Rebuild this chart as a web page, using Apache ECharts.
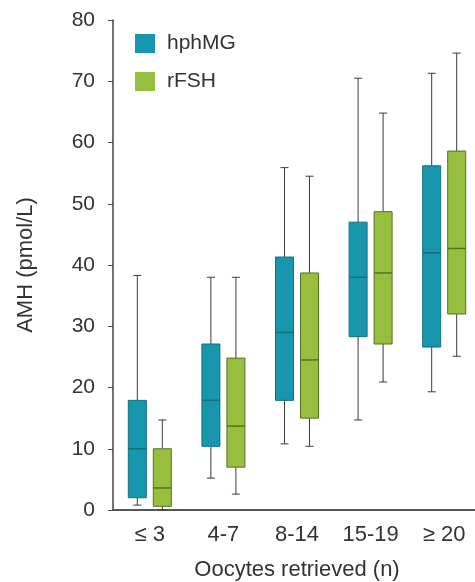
<!DOCTYPE html>
<html>
<head>
<meta charset="utf-8">
<script src="https://cdn.jsdelivr.net/npm/echarts@6/dist/echarts.min.js"></script>
<style>
  html, body { margin: 0; padding: 0; background: #fff; }
  #main { width: 475px; height: 582px; }
</style>
</head>
<body>
<div id="main"></div>
<script>
// 数据：每组 [最小值, Q1, 中位数, Q3, 最大值]
var categories = ['\u2264 3', '4-7', '8-14', '15-19', '\u2265 20'];
var hphMG = [
    [0.8, 2.0, 10.0, 17.9, 38.3],
    [5.2, 10.4, 17.9, 27.1, 38.0],
    [10.8, 17.9, 29.0, 41.3, 55.9],
    [14.7, 28.3, 38.0, 47.0, 70.5],
    [19.3, 26.6, 42.0, 56.2, 71.3]
];
var rFSH = [
    [0.0, 0.6, 3.6, 10.0, 14.7],
    [2.6, 7.0, 13.7, 24.8, 38.0],
    [10.4, 15.0, 24.5, 38.7, 54.5],
    [20.9, 27.1, 38.7, 48.7, 64.8],
    [25.1, 32.0, 42.7, 58.6, 74.6]
];
var yTicks = [0, 10, 20, 30, 40, 50, 60, 70, 80];

var FONT = 'Liberation Sans, Arial, sans-serif';

function toItems(arr) {
    return arr.map(function (d, i) { return [i].concat(d); });
}

// 自绘箱线：须线灰色，箱体按系列颜色
function makeRender(offset, fill, border) {
    return function (params, api) {
        var c = api.value(0);
        var pMin = api.coord([c, api.value(1)]);
        var pQ1 = api.coord([c, api.value(2)]);
        var pMed = api.coord([c, api.value(3)]);
        var pQ3 = api.coord([c, api.value(4)]);
        var pMax = api.coord([c, api.value(5)]);
        var x = pMin[0] + offset;
        var bw = 18, cap = 4;
        var wStyle = { stroke: '#3a3a3a', lineWidth: 1 };
        return {
            type: 'group',
            children: [
                { type: 'line', shape: { x1: x, y1: pMax[1], x2: x, y2: pQ3[1] }, style: wStyle },
                { type: 'line', shape: { x1: x, y1: pQ1[1], x2: x, y2: pMin[1] }, style: wStyle },
                { type: 'line', shape: { x1: x - cap, y1: pMax[1], x2: x + cap, y2: pMax[1] }, style: wStyle },
                { type: 'line', shape: { x1: x - cap, y1: pMin[1], x2: x + cap, y2: pMin[1] }, style: wStyle },
                { type: 'rect', shape: { x: x - bw / 2, y: pQ3[1], width: bw, height: pQ1[1] - pQ3[1] },
                  style: { fill: fill, stroke: border, lineWidth: 1 } },
                { type: 'line', shape: { x1: x - bw / 2, y1: pMed[1], x2: x + bw / 2, y2: pMed[1] },
                  style: { stroke: border, lineWidth: 1.5 } }
            ]
        };
    };
}

var myChart = echarts.init(document.getElementById('main'));
var option = {
    backgroundColor: '#fff',
    animation: false,
    legend: {
        orient: 'vertical',
        left: 135,
        top: 33,
        padding: 0,
        itemWidth: 20,
        itemHeight: 19,
        itemGap: 17,
        icon: 'rect',
        textStyle: { fontFamily: FONT, fontSize: 21, color: '#333', padding: [0, 0, 0, 7] },
        data: ['hphMG', 'rFSH']
    },
    grid: { left: 113, top: 20, bottom: 72, right: -6, containLabel: false, outerBoundsMode: 'none' },
    xAxis: {
        type: 'category',
        data: categories,
        name: 'Oocytes retrieved (n)',
        nameLocation: 'middle',
        nameGap: 49,
        nameTextStyle: { fontFamily: FONT, fontSize: 22, color: '#333' },
        axisLine: { lineStyle: { color: '#555', width: 2 } },
        axisTick: { show: false },
        axisLabel: { fontFamily: FONT, fontSize: 22, color: '#333', margin: 14, interval: 0, hideOverlap: false }
    },
    yAxis: {
        type: 'value',
        min: 0,
        max: 80,
        interval: 10,
        name: 'AMH (pmol/L)',
        nameLocation: 'middle',
        nameGap: 76,
        nameTextStyle: { fontFamily: FONT, fontSize: 22, color: '#333' },
        splitLine: { show: false },
        axisLine: { show: true, lineStyle: { color: '#444', width: 1.5 } },
        axisTick: { show: true, length: 5, lineStyle: { color: '#444' } },
        axisLabel: {
            fontFamily: FONT, fontSize: 21, color: '#333', margin: 18,
            formatter: function (v) { return yTicks.indexOf(v) >= 0 ? String(v) : ''; }
        }
    },
    series: [
        {
            name: 'hphMG',
            type: 'custom',
            itemStyle: { color: '#1796ad', borderColor: '#12707f' },
            renderItem: makeRender(-12.5, '#1796ad', '#12707f'),
            encode: { x: 0, y: [1, 2, 3, 4, 5] },
            data: toItems(hphMG)
        },
        {
            name: 'rFSH',
            type: 'custom',
            itemStyle: { color: '#97be3e', borderColor: '#56721f' },
            renderItem: makeRender(12.5, '#97be3e', '#56721f'),
            encode: { x: 0, y: [1, 2, 3, 4, 5] },
            data: toItems(rFSH)
        }
    ]
};
myChart.setOption(option);
</script>
</body>
</html>
